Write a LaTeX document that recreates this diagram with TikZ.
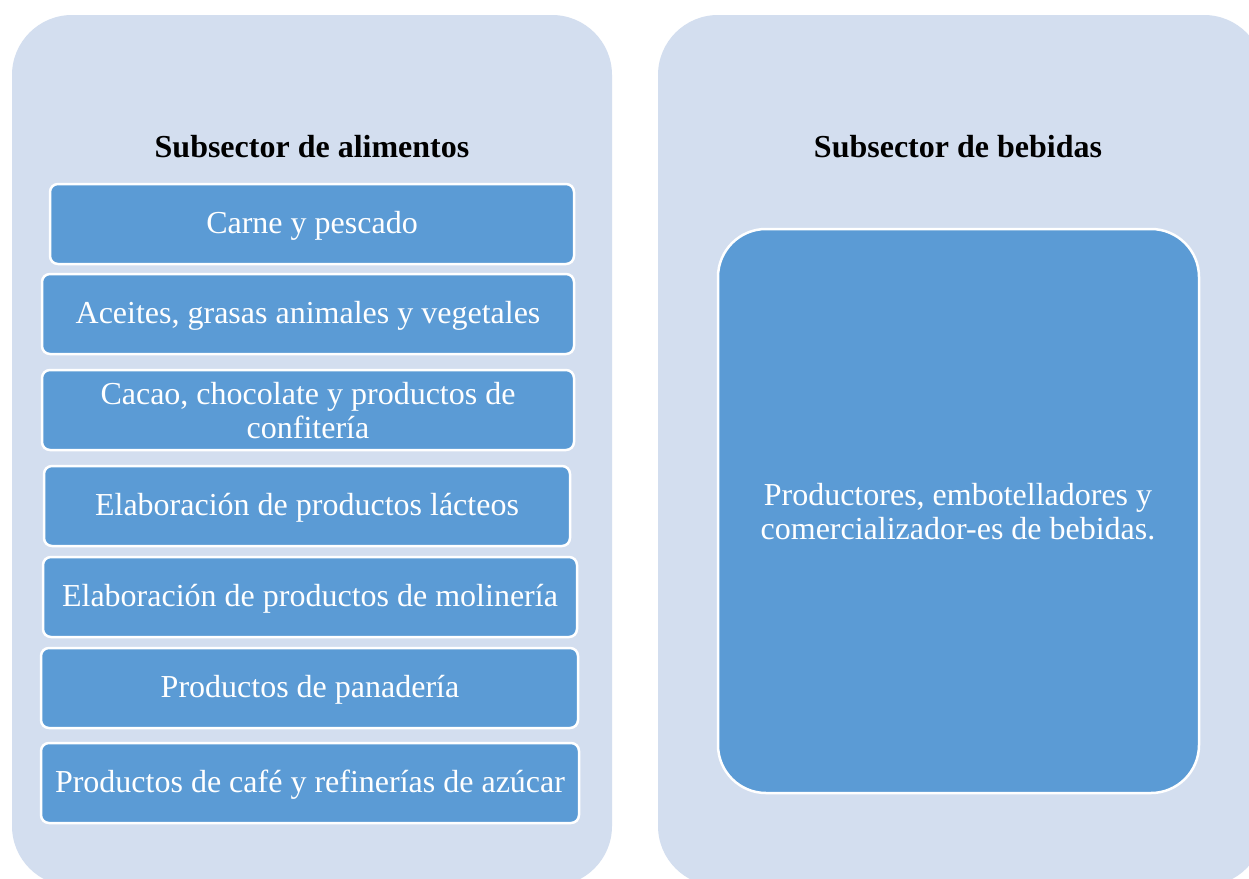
\documentclass[tikz,border=0pt]{standalone}
\usepackage{fontspec}
\setmainfont{Liberation Serif}
\definecolor{panelfill}{RGB}{211,222,239}
\definecolor{boxfill}{RGB}{91,155,213}
\tikzset{
  panel/.style={fill=panelfill, draw=none, rounded corners=60pt},
  itembox/.style={fill=boxfill, draw=white, line width=2.5pt, rounded corners=8pt},
  bigbox/.style={fill=boxfill, draw=white, line width=2.5pt, rounded corners=48pt},
  itemtext/.style={text=white, font=\fontsize{32}{34}\selectfont, align=center},
  titletext/.style={text=black, font=\fontsize{32}{34}\selectfont\bfseries, align=center}
}
\begin{document}
\begin{tikzpicture}[x=1pt,y=-1pt]
\useasboundingbox (0,0) rectangle (1249,878);
\clip (0,0) rectangle (1249,878);
\fill[white] (0,0) rectangle (1249,878);
% panels
\path[panel] (12,15) rectangle (612,886);
\path[panel] (658,15) rectangle (1264,886);
% titles
\node[titletext] (t1) at (312,147) {Subsector de alimentos};
\node[titletext] (t2) at (958,147) {Subsector de bebidas};
% left boxes
\draw[itembox] (50,184) rectangle (574,264);
\node[itemtext] (b1) at (312,226) {Carne y pescado};
\draw[itembox] (42,274) rectangle (574,354);
\node[itemtext] (b2) at (308,316) {Aceites, grasas animales y vegetales};
\draw[itembox] (42,370) rectangle (574,450);
\node[itemtext] (b3) at (308,411) {Cacao, chocolate y productos de\\confitería};
\draw[itembox] (44,466) rectangle (570,546);
\node[itemtext] (b4) at (307,508) {Elaboración de productos lácteos};
\draw[itembox] (43,557) rectangle (577,637);
\node[itemtext] (b5) at (310,599) {Elaboración de productos de molinería};
\draw[itembox] (41,648) rectangle (578,728);
\node[itemtext] (b6) at (310,690) {Productos de panadería};
\draw[itembox] (41,743) rectangle (579,823);
\node[itemtext] (b7) at (310,785) {Productos de café y refinerías de azúcar};
% right big box
\draw[bigbox] (718,229) rectangle (1199,793);
\node[itemtext] (r1) at (958,512) {Productores, embotelladores y\\comercializador-es de bebidas.};
\end{tikzpicture}
\end{document}
